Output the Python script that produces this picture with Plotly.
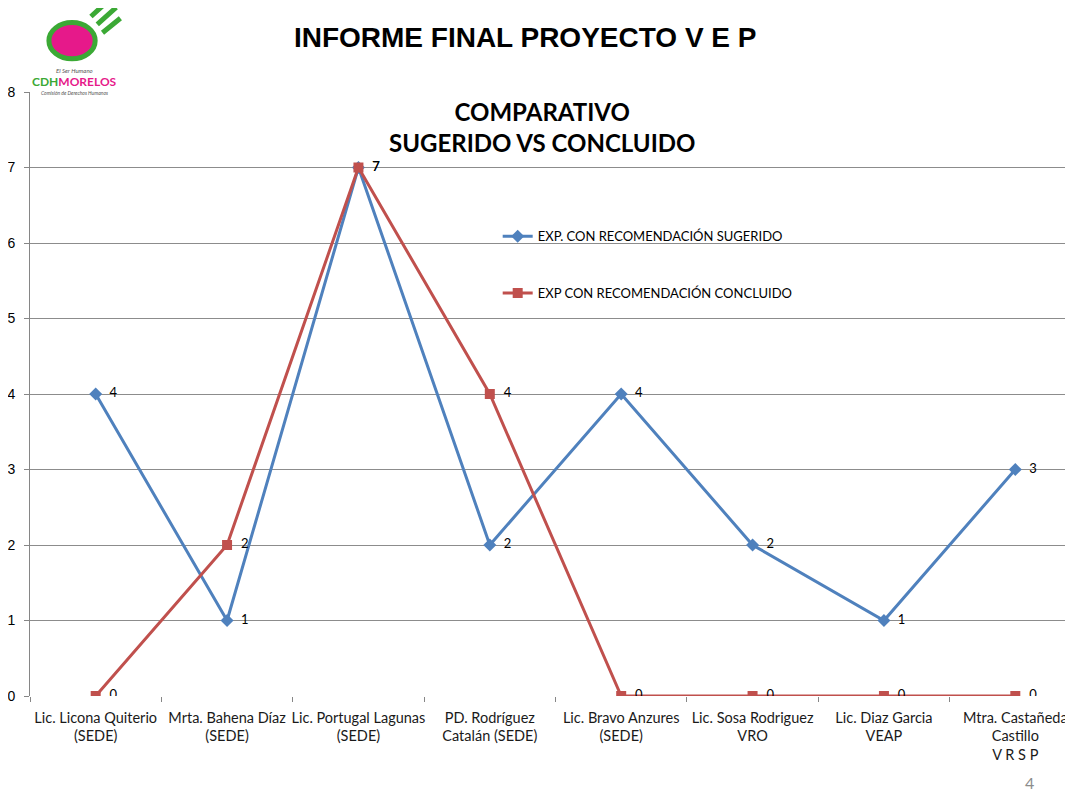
import plotly.graph_objects as go

categories = [
    "Lic. Licona Quiterio<br>(SEDE)",
    "Mrta. Bahena Díaz<br>(SEDE)",
    "Lic. Portugal Lagunas<br>(SEDE)",
    "PD. Rodríguez<br>Catalán (SEDE)",
    "Lic. Bravo Anzures<br>(SEDE)",
    "Lic. Sosa Rodriguez<br>VRO",
    "Lic. Diaz Garcia<br>VEAP",
    "Mtra. Castañeda<br>Castillo<br>V R S P",
]
sugerido = [4, 1, 7, 2, 4, 2, 1, 3]
concluido = [0, 2, 7, 4, 0, 0, 0, 0]
name_sug = "EXP. CON RECOMENDACIÓN SUGERIDO"
name_con = "EXP CON RECOMENDACIÓN CONCLUIDO"

FONT = "Lato, 'Open Sans', sans-serif"
ARIAL = "Liberation Sans, Arial, sans-serif"
BLUE = "#4F81BD"
RED = "#C0504D"

fig = go.Figure()
fig.add_trace(go.Scatter(
    x=categories, y=sugerido, name=name_sug, legendgroup="a",
    mode="lines+markers+text",
    line=dict(color=BLUE, width=3),
    marker=dict(symbol="diamond", size=10, color=BLUE),
    text=["  " + str(v) for v in sugerido], textposition="middle right",
    textfont=dict(family=FONT, size=13, color="#000000"),
))
fig.add_trace(go.Scatter(
    x=categories, y=concluido, name=name_con, legendgroup="b",
    mode="lines+markers+text",
    line=dict(color=RED, width=3),
    marker=dict(symbol="square", size=10, color=RED),
    text=["  " + str(v) for v in concluido], textposition="middle right",
    textfont=dict(family=FONT, size=13, color="#000000"),
))

fig.update_layout(
    width=1073, height=795,
    margin=dict(l=22, r=0, t=84, b=107),
    paper_bgcolor="white", plot_bgcolor="white",
    showlegend=True,
    legend=dict(
        x=0.445, y=0.786, xanchor="left", yanchor="top",
        bgcolor="rgba(0,0,0,0)",
        font=dict(family=FONT, size=13, color="#000000"),
        tracegroupgap=37, itemwidth=30,
    ),
    title=dict(
        text="<b>INFORME FINAL PROYECTO V E P</b>",
        x=0.482, xanchor="center", y=0.9635, yanchor="middle",
        font=dict(family=ARIAL, size=28, color="#000000"),
    ),
    xaxis=dict(
        range=[-0.5, 7.5], showgrid=False,
        showline=False, ticks="outside", tickson="boundaries",
        ticklen=5, tickcolor="#868686", ticklabelstandoff=11,
        tickangle=0, automargin=False,
        tickfont=dict(family=FONT, size=14.5, color="#1a1a1a"),
        zeroline=False, fixedrange=True,
    ),
    yaxis=dict(
        range=[0, 8], dtick=1, showgrid=True, gridcolor="#8C8C8C", gridwidth=1,
        showline=True, linecolor="#868686", linewidth=1,
        ticks="outside", ticklen=5, tickcolor="#868686", ticklabelstandoff=6,
        tickfont=dict(family=ARIAL, size=14, color="#000000"),
        zeroline=False, automargin=False,
    ),
)

# Chart inner title
fig.add_annotation(
    text="<b>COMPARATIVO<br>SUGERIDO VS CONCLUIDO</b>",
    xref="paper", yref="paper", x=0.487, y=0.995, xanchor="center", yanchor="top",
    showarrow=False, align="center",
    font=dict(family=FONT, size=24, color="#000000"),
)

# Logo (approximation)
fig.add_shape(type="path", xref="paper", yref="paper",
              path="M 0.058,1.125 L 0.075,1.152 M 0.064,1.112 L 0.082,1.140 M 0.069,1.098 L 0.086,1.122",
              line=dict(color="#3BA935", width=5))
fig.add_shape(type="circle", xref="paper", yref="paper",
              x0=0.018, x1=0.062, y0=1.055, y1=1.115,
              fillcolor="#E6198A", line=dict(color="#3BA935", width=5))
fig.add_annotation(
    text="<i>El Ser Humano</i>",
    xref="paper", yref="paper", x=0.0428, y=1.035, xanchor="center", yanchor="middle",
    showarrow=False, font=dict(family=FONT, size=6, color="#555555"),
)
fig.add_annotation(
    text="<b><span style='color:#3BA935'>CDH</span><span style='color:#E6198A'>MORELOS</span></b>",
    xref="paper", yref="paper", x=0.0428, y=1.0166, xanchor="center", yanchor="middle",
    showarrow=False, font=dict(family=FONT, size=12),
)
fig.add_annotation(
    text="<i>Comisión de Derechos Humanos</i>",
    xref="paper", yref="paper", x=0.0428, y=0.998, xanchor="center", yanchor="middle",
    showarrow=False, font=dict(family=FONT, size=5, color="#555555"),
)

# Page number
fig.add_annotation(
    text="4", xref="paper", yref="paper", x=0.951, y=-0.144, xanchor="center",
    yanchor="middle", showarrow=False,
    font=dict(family=FONT, size=16, color="#8C8C8C"),
)

fig.write_html("out.html")
